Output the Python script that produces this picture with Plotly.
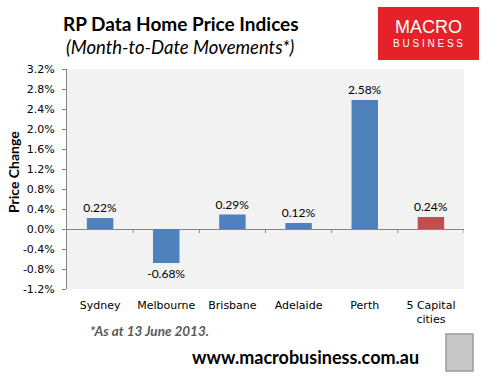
import plotly.graph_objects as go

categories = ["Sydney", "Melbourne", "Brisbane", "Adelaide", "Perth", "5 Capital<br>cities"]
values = [0.22, -0.68, 0.29, 0.12, 2.58, 0.24]
bar_colors = ["#4f81bd", "#4f81bd", "#4f81bd", "#4f81bd", "#4f81bd", "#c0504d"]
tick_vals = [-1.2, -0.8, -0.4, 0.0, 0.4, 0.8, 1.2, 1.6, 2.0, 2.4, 2.8, 3.2]
tick_text = [f"{v:.1f}%" for v in tick_vals]

W, H = 484, 380
L, R, T, B = 67, 464, 69, 289


def px(X):
    return (X - L) / (R - L)


def py(Y):
    return (B - Y) / (B - T)


fig = go.Figure()
fig.add_trace(go.Bar(
    x=list(range(len(categories))),
    y=values,
    marker=dict(color=bar_colors, line=dict(width=0)),
    width=0.4,
    text=[f"{v:.2f}%" for v in values],
    textposition="outside",
    constraintext="none",
    textfont=dict(family="Lato", size=12, color="#000000"),
    cliponaxis=False,
    hoverinfo="skip",
))

shapes = []
# category boundary ticks on the zero line
for k in range(len(categories)):
    shapes.append(dict(type="line", xref="x", yref="y", x0=k + 0.5, x1=k + 0.5,
                       y0=0, y1=-0.08, line=dict(color="#868686", width=1)))
# logo box
shapes.append(dict(type="rect", xref="paper", yref="paper",
                   x0=px(378), x1=px(479), y0=py(60), y1=py(7),
                   fillcolor="#e5222a", line=dict(width=0), layer="above"))
# wolf image placeholder
shapes.append(dict(type="rect", xref="paper", yref="paper",
                   x0=px(446), x1=px(473), y0=py(371), y1=py(334),
                   fillcolor="#c8c8c8", line=dict(color="#9a9a9a", width=1.5), layer="above"))


def ann(text, X, Y, size, family="Lato", color="#000000", xanchor="center", **kw):
    return dict(text=text, x=px(X), y=py(Y), xref="paper", yref="paper",
                xanchor=xanchor, yanchor="middle", showarrow=False,
                font=dict(family=family, size=size, color=color), **kw)


annotations = [
    ann("<b>RP Data Home Price Indices</b>", 181, 24, 19),
    ann("<i>(Month-to-Date Movements*)</i>", 180, 47, 18.5),
    ann("MACRO", 428, 27, 18, family="Liberation Sans", color="#ffffff"),
    ann("B U S I N E S S", 428, 43, 10, family="Liberation Sans", color="#ffffff"),
    ann("<b>Price Change</b>", 13, 172, 14, textangle=-90),
    ann("<b><i>*As at 13 June 2013.</i></b>", 88, 331, 13.5, color="#595959", xanchor="left"),
    ann("<b>www.macrobusiness.com.au</b>", 305, 357, 18),
]

fig.update_layout(
    width=W, height=H,
    margin=dict(l=L, r=W - R, t=T, b=H - B, pad=0, autoexpand=False),
    paper_bgcolor="#ffffff",
    plot_bgcolor="#f2f2f2",
    showlegend=False,
    shapes=shapes,
    annotations=annotations,
    xaxis=dict(
        range=[-0.5, 5.5],
        tickmode="array",
        tickvals=list(range(len(categories))),
        ticktext=categories,
        showgrid=False, zeroline=False, showline=False, ticks="",
        tickfont=dict(family="DejaVu Sans", size=11, color="#000000"),
        ticklabelstandoff=8,
        fixedrange=True,
    ),
    yaxis=dict(
        range=[-1.2, 3.2],
        tickmode="array",
        tickvals=tick_vals,
        ticktext=tick_text,
        showgrid=False,
        zeroline=True, zerolinecolor="#868686", zerolinewidth=1,
        showline=True, linecolor="#868686", linewidth=1,
        ticks="outside", ticklen=4, tickcolor="#868686",
        tickfont=dict(family="DejaVu Sans", size=11, color="#000000"),
        ticklabelstandoff=5,
        fixedrange=True,
    ),
)

fig.write_html(
    "out.html",
    config={"displayModeBar": False},
    post_script="document.body.style.margin='0';document.body.style.overflow='hidden';",
)
